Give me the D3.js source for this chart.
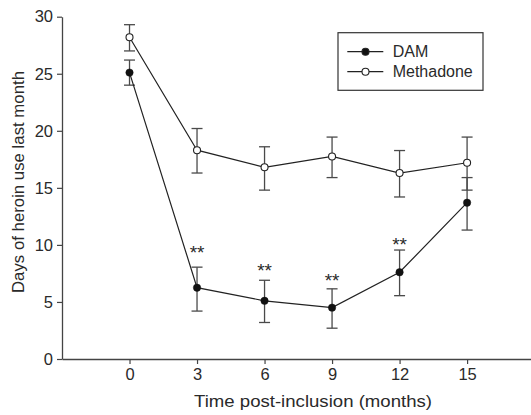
<!DOCTYPE html>
<html>
<head>
<meta charset="utf-8">
<script src="https://cdn.jsdelivr.net/npm/d3@7"></script>
<style>
  html, body { margin: 0; padding: 0; background: #fff; }
  svg { display: block; font-family: "Liberation Sans", Arial, Helvetica, sans-serif; }
</style>
</head>
<body>
<svg id="chart" width="531" height="415"></svg>
<script>
// ---- data ----
const months = [0, 3, 6, 9, 12, 15];
const xTicks = [0, 3, 6, 9, 12, 15];
const yTicks = [0, 5, 10, 15, 20, 25, 30];

const damMean  = [25.1, 6.25, 5.1, 4.5, 7.6, 13.7];
const damUpper = [26.2, 8.05, 6.9, 6.15, 9.55, 15.9];
const damLower = [24.0, 4.2, 3.2, 2.7, 5.55, 11.3];

const metMean  = [28.2, 18.3, 16.8, 17.75, 16.3, 17.2];
const metUpper = [29.3, 20.2, 18.6, 19.45, 18.27, 19.45];
const metLower = [27.0, 16.3, 14.8, 15.9, 14.2, 14.8];

// significance markers (month, label y-value)
const sigMonths = [3, 6, 9, 12];
const sigValues = [9.65, 8.07, 7.19, 10.38];
const sigLabel = "**";

const seriesNames = ["DAM", "Methadone"];
const xTitle = "Time post-inclusion (months)";
const yTitle = "Days of heroin use last month";

// ---- layout ----
const svg = d3.select("#chart");
const x = d3.scaleLinear().domain([-3, 17.84]).range([62, 531]);
const y = d3.scaleLinear().domain([0, 30]).range([359, 16.7]);

const axisColor = "#444";
const textColor = "#2a2a2a";

// axes
const xAxis = svg.append("g")
  .attr("transform", `translate(0,${y(0)})`)
  .call(d3.axisBottom(x).tickValues(xTicks).tickSize(5).tickSizeOuter(0).tickPadding(4));
const yAxis = svg.append("g")
  .attr("transform", `translate(${x(-3)},0)`)
  .call(d3.axisLeft(y).tickValues(yTicks).tickSize(5).tickSizeOuter(0).tickPadding(4));

[xAxis, yAxis].forEach(g => {
  g.select(".domain").attr("stroke", axisColor).attr("stroke-width", 1.3);
  g.selectAll(".tick line").attr("stroke", axisColor).attr("stroke-width", 1.2);
  g.selectAll(".tick text").attr("fill", textColor).style("font-size", "16.5px");
});

// axis titles
svg.append("text")
  .attr("x", 194).attr("y", 406.5)
  .attr("textLength", 238).attr("lengthAdjust", "spacingAndGlyphs")
  .attr("fill", textColor).style("font-size", "16.5px")
  .text(xTitle);

svg.append("text")
  .attr("transform", `translate(24,182) rotate(-90)`)
  .attr("text-anchor", "middle")
  .attr("fill", textColor).style("font-size", "16.8px")
  .text(yTitle);

// error bars
function errorBars(upper, lower, cls) {
  const g = svg.append("g").attr("class", cls)
    .attr("stroke", "#4a4a4a").attr("stroke-width", 1.3).attr("fill", "none");
  const capW = 5.5;
  months.forEach((m, i) => {
    const cx = x(m);
    g.append("line").attr("x1", cx).attr("x2", cx).attr("y1", y(upper[i])).attr("y2", y(lower[i]));
    g.append("line").attr("x1", cx - capW).attr("x2", cx + capW).attr("y1", y(upper[i])).attr("y2", y(upper[i]));
    g.append("line").attr("x1", cx - capW).attr("x2", cx + capW).attr("y1", y(lower[i])).attr("y2", y(lower[i]));
  });
}
errorBars(metUpper, metLower, "err-met");
errorBars(damUpper, damLower, "err-dam");

// lines
const line = d3.line().x((d, i) => x(months[i])).y(d => y(d));
svg.append("path").datum(damMean).attr("d", line)
  .attr("fill", "none").attr("stroke", "#222").attr("stroke-width", 1.2);
svg.append("path").datum(metMean).attr("d", line)
  .attr("fill", "none").attr("stroke", "#222").attr("stroke-width", 1.2);

// points
svg.append("g").selectAll("circle").data(damMean).join("circle")
  .attr("cx", (d, i) => x(months[i])).attr("cy", d => y(d)).attr("r", 3.7)
  .attr("fill", "#111").attr("stroke", "#111").attr("stroke-width", 0.5);
svg.append("g").selectAll("circle").data(metMean).join("circle")
  .attr("cx", (d, i) => x(months[i])).attr("cy", d => y(d)).attr("r", 3.5)
  .attr("fill", "#fff").attr("stroke", "#222").attr("stroke-width", 1.1);

// significance stars
svg.append("g").selectAll("text").data(sigMonths).join("text")
  .attr("x", d => x(d)).attr("y", (d, i) => y(sigValues[i]) + 10.5)
  .attr("text-anchor", "middle")
  .attr("fill", textColor).style("font-size", "19px")
  .text(sigLabel);

// legend
const lg = svg.append("g");
lg.append("rect").attr("x", 338).attr("y", 32.7).attr("width", 145).attr("height", 57.6)
  .attr("fill", "#fff").attr("stroke", "#333").attr("stroke-width", 1.2);
const legendRows = [
  { name: seriesNames[0], y: 51.7, fill: "#111" },
  { name: seriesNames[1], y: 71.7, fill: "#fff" }
];
legendRows.forEach(r => {
  lg.append("line").attr("x1", 347.3).attr("x2", 383.3).attr("y1", r.y).attr("y2", r.y)
    .attr("stroke", "#222").attr("stroke-width", 1.2);
  lg.append("circle").attr("cx", 365.5).attr("cy", r.y).attr("r", 3.5)
    .attr("fill", r.fill).attr("stroke", "#222").attr("stroke-width", 1.1);
  lg.append("text").attr("x", 392.7).attr("y", r.y + 5.6)
    .attr("fill", textColor).style("font-size", "16px").text(r.name);
});
</script>
</body>
</html>
